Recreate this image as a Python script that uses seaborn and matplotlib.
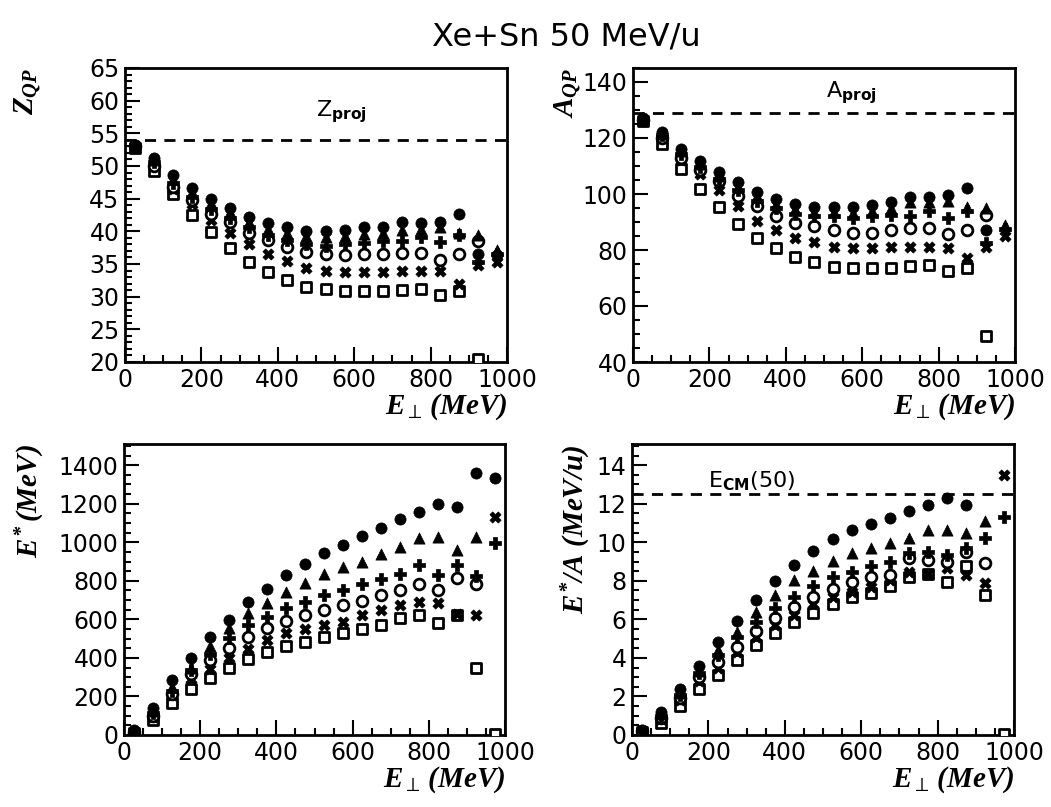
import numpy as np
import matplotlib
matplotlib.use("Agg")
import matplotlib.pyplot as plt
from matplotlib.ticker import MultipleLocator
import seaborn as sns

nan = np.nan

# bin centres of transverse energy (MeV)
e_perp = [25, 75, 125, 175, 225, 275, 325, 375, 425, 475,
          525, 575, 625, 675, 725, 775, 825, 875, 925, 975]

z_qp = {
    "full_circle": [53.2, 51.2, 48.6, 46.6, 45.0, 43.5, 42.2, 41.2, 40.6, 40.0, 40.0, 40.2, 40.6, 40.7, 41.4, 41.3, 41.5, 42.6, 36.6, 36.4],
    "triangle":    [53.1, 50.9, 48.0, 46.0, 44.3, 42.9, 41.4, 40.4, 39.8, 39.3, 39.1, 39.3, 39.6, 39.8, 40.2, 40.4, 40.6, 39.8, 39.5, 37.2],
    "plus":        [53.0, 50.6, 47.4, 45.3, 43.4, 42.1, 40.6, 39.4, 38.6, 38.0, 37.8, 38.0, 38.2, 38.5, 38.5, 39.2, 38.3, 39.5, 35.3, 36.5],
    "open_circle": [53.0, 50.0, 46.8, 44.8, 42.6, 41.5, 39.8, 38.6, 37.6, 36.8, 36.5, 36.4, 36.5, 36.6, 36.7, 36.7, 35.6, 36.6, 38.5, nan],
    "cross":       [53.0, 50.2, 46.5, 44.2, 41.8, 39.8, 38.0, 36.6, 35.4, 34.4, 33.9, 33.7, 33.7, 33.8, 33.9, 34.0, 34.0, 31.9, 34.8, 35.3],
    "open_square": [52.8, 49.3, 45.7, 42.5, 39.9, 37.4, 35.3, 33.8, 32.6, 31.5, 31.1, 30.8, 30.8, 30.9, 31.0, 31.2, 30.3, 30.8, 20.5, nan],
}

a_qp = {
    "full_circle": [127.0, 122.2, 116.2, 111.7, 107.8, 104.2, 100.8, 98.3, 96.5, 95.5, 95.5, 95.5, 96.2, 97.0, 99.0, 99.0, 99.7, 102.1, 87.2, nan],
    "triangle":    [126.8, 121.6, 115.2, 110.6, 106.6, 102.6, 99.2, 96.6, 94.6, 93.5, 93.5, 93.3, 94.0, 95.0, 97.0, 97.2, 97.5, 95.5, 95.0, 89.0],
    "plus":        [126.6, 121.0, 114.2, 109.6, 105.2, 101.4, 97.6, 95.0, 93.0, 92.0, 92.0, 91.5, 92.0, 92.5, 92.0, 93.8, 91.4, 94.0, 82.5, 87.5],
    "open_circle": [126.5, 120.0, 113.0, 108.5, 104.5, 99.4, 95.6, 92.2, 89.6, 88.4, 87.2, 86.0, 86.2, 87.2, 88.0, 87.8, 85.8, 87.2, 92.6, nan],
    "cross":       [126.4, 120.0, 112.0, 107.0, 101.5, 95.6, 90.5, 87.2, 84.4, 82.7, 80.9, 80.6, 80.6, 80.9, 81.2, 81.2, 80.6, 77.0, 81.0, 85.0],
    "open_square": [126.0, 117.7, 109.0, 101.8, 95.2, 89.3, 84.2, 80.6, 77.6, 75.8, 74.0, 73.7, 73.7, 73.7, 74.3, 74.6, 72.5, 73.5, 49.2, nan],
}

e_star = {
    "full_circle": [25, 140, 283, 397, 506, 596, 688, 760, 829, 885, 942, 988, 1032, 1075, 1123, 1158, 1201, 1184, 1360, 1334],
    "triangle":    [20, 125, 250, 350, 460, 553, 631, 686, 743, 790, 833, 873, 899, 937, 976, 1020, 1028, 959, 1028, nan],
    "plus":        [18, 115, 230, 335, 420, 501, 570, 613, 657, 688, 726, 752, 783, 807, 838, 881, 829, 881, 824, 994],
    "open_circle": [15, 100, 215, 315, 389, 454, 506, 553, 591, 622, 648, 674, 696, 726, 755, 783, 752, 816, 786, nan],
    "cross":       [12, 95, 205, 290, 345, 397, 444, 492, 527, 548, 570, 588, 622, 648, 674, 688, 683, 630, 622, 1132],
    "open_square": [10, 80, 165, 240, 295, 346, 392, 432, 461, 480, 510, 530, 548, 570, 605, 622, 582, 625, 349, 5],
}

e_star_per_a = {
    "full_circle": [0.25, 1.2, 2.4, 3.6, 4.8, 5.9, 7.03, 7.98, 8.8, 9.56, 10.15, 10.63, 10.97, 11.27, 11.63, 11.93, 12.32, 11.93, nan, nan],
    "triangle":    [0.22, 1.1, 2.2, 3.3, 4.4, 5.36, 6.4, 7.26, 8.04, 8.5, 9.04, 9.42, 9.71, 9.94, 10.2, 10.66, 10.66, 10.46, 11.1, nan],
    "plus":        [0.2, 1.0, 2.1, 3.2, 4.15, 5.1, 5.88, 6.57, 7.17, 7.74, 8.2, 8.47, 8.76, 8.99, 9.42, 9.5, 9.33, 9.7, 10.23, 11.3],
    "open_circle": [0.2, 0.9, 1.9, 3.0, 3.8, 4.58, 5.4, 6.05, 6.65, 7.17, 7.6, 7.95, 8.2, 8.3, 9.16, 9.07, 8.99, 9.5, 8.94, nan],
    "cross":       [0.2, 0.85, 1.8, 2.8, 3.5, 4.3, 5.1, 5.7, 6.22, 6.78, 7.17, 7.43, 7.7, 8.04, 8.47, 8.38, 8.64, 8.3, 7.9, 13.5],
    "open_square": [0.15, 0.6, 1.5, 2.4, 3.1, 3.9, 4.67, 5.3, 5.88, 6.34, 6.79, 7.14, 7.38, 7.73, 8.2, 8.38, 7.95, 8.75, 7.26, 0.05],
}

z_proj = 54
a_proj = 129
e_cm_50 = 12.5

# marker styles for the six selections
marker_style = {
    "open_square": dict(marker="s", s=60, facecolor="white", edgecolor="black", linewidth=2.0),
    "cross":       dict(marker="X", s=65, facecolor="black", edgecolor="black", linewidth=0.5),
    "open_circle": dict(marker="o", s=60, facecolor="white", edgecolor="black", linewidth=2.0),
    "plus":        dict(marker="P", s=80, facecolor="black", edgecolor="black", linewidth=0.5),
    "triangle":    dict(marker="^", s=65, facecolor="black", edgecolor="black", linewidth=0.5),
    "full_circle": dict(marker="o", s=65, facecolor="black", edgecolor="black", linewidth=0.5),
}
draw_order = ["open_square", "cross", "open_circle", "plus", "triangle", "full_circle"]

sns.set_style("white")
plt.rcParams["font.family"] = ["DejaVu Sans"]
plt.rcParams["text.color"] = "black"
plt.rcParams["axes.labelcolor"] = "black"
plt.rcParams["xtick.color"] = "black"
plt.rcParams["ytick.color"] = "black"
plt.rcParams["mathtext.fontset"] = "custom"
plt.rcParams["mathtext.rm"] = "Liberation Serif:bold:italic"
plt.rcParams["mathtext.it"] = "Liberation Serif:bold:italic"
plt.rcParams["mathtext.bf"] = "Liberation Serif:bold:italic"
plt.rcParams["mathtext.sf"] = "DejaVu Sans:bold"

fig = plt.figure(figsize=(10.51, 8.07), dpi=100)
fig.patch.set_facecolor("white")

W, H = 1051, 807
def box(left, top, right, bottom):
    return [left / W, 1 - bottom / H, (right - left) / W, (bottom - top) / H]

ax_z = fig.add_axes(box(125, 68, 507, 362))
ax_a = fig.add_axes(box(633, 68, 1015, 362))
ax_e = fig.add_axes(box(124, 444, 505, 735))
ax_ea = fig.add_axes(box(632, 444, 1014, 735))

panels = [
    (ax_z, z_qp, (20, 65), 5, 1, r"$Z_{QP}$", -0.215),
    (ax_a, a_qp, (40, 145), 20, 5, r"$A_{QP}$", -0.13),
    (ax_e, e_star, (0, 1510), 200, 50, r"$E^{*}\,(MeV)$", -0.205),
    (ax_ea, e_star_per_a, (0, 15.1), 2, 0.5, r"$E^{*}/A\ (MeV/u)$", -0.105),
]

for ax, data, ylim, ymaj, ymin, ylabel, ylab_x in panels:
    for name in draw_order:
        sns.scatterplot(x=e_perp, y=data[name], ax=ax, legend=False,
                        zorder=3, clip_on=True, **marker_style[name])
    ax.set_xlim(0, 1000)
    ax.set_ylim(*ylim)
    ax.xaxis.set_major_locator(MultipleLocator(200))
    ax.xaxis.set_minor_locator(MultipleLocator(50))
    ax.yaxis.set_major_locator(MultipleLocator(ymaj))
    ax.yaxis.set_minor_locator(MultipleLocator(ymin))
    ax.tick_params(which="both", direction="in", top=False, right=False,
                   left=True, bottom=True, width=1.5, color="black")
    ax.tick_params(which="major", length=11, labelsize=17, pad=4)
    ax.tick_params(which="minor", length=5)
    for sp in ax.spines.values():
        sp.set_linewidth(2)
        sp.set_color("black")
    ax.set_xlabel(r"$E_{\perp}\,(MeV)$", fontsize=21, loc="right", labelpad=0)
    ax.set_ylabel(ylabel, fontsize=21, loc="top")
    ax.yaxis.set_label_coords(ylab_x, 1.0)
    ax.grid(False)

# reference lines
ax_z.axhline(z_proj, color="black", linestyle=(0, (4, 3)), linewidth=2)
ax_a.axhline(a_proj, color="black", linestyle=(0, (4, 3)), linewidth=2)
ax_ea.axhline(e_cm_50, color="black", linestyle=(0, (4, 3)), linewidth=2)

ax_z.text(500, 58.3, r"Z$_{\mathsf{proj}}$", fontsize=16, va="center", ha="left")
ax_a.text(505, 136, r"A$_{\mathsf{proj}}$", fontsize=16, va="center", ha="left")
ax_ea.text(200, 13.2, r"E$_{\mathsf{CM}}$(50)", fontsize=16, va="center", ha="left")

fig.text(0.539, 0.954, "Xe+Sn 50 MeV/u", fontsize=23, ha="center", va="center",
         family=["Liberation Sans Narrow", "DejaVu Sans"])

fig.savefig("out.png", dpi=100, facecolor="white")
